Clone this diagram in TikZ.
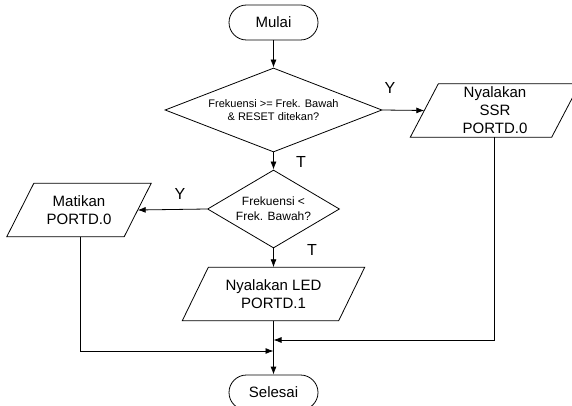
\documentclass[tikz,border=0pt]{standalone}
\usepackage{fontspec}
\setmainfont{Liberation Sans}
\usetikzlibrary{arrows.meta,shapes.geometric}
\tikzset{
  ln/.style={line width=0.8pt},
  arr/.style={ln,-{Latex[length=8pt,width=6pt]}},
  term/.style={draw,ln,rounded corners=17.5pt,minimum width=89pt,minimum height=35pt,inner sep=0pt,font=\fontsize{15}{18}\selectfont},
  para/.style={draw=none,minimum height=53pt,inner sep=0pt,align=center,font=\fontsize{15}{18}\selectfont},
  dec/.style={draw,ln,shape=diamond,inner sep=0pt,align=center},
  lbl/.style={font=\fontsize{16}{18}\selectfont,inner sep=0pt}
}
\begin{document}
\begin{tikzpicture}[x=1pt,y=-1pt]
\useasboundingbox (0,0) rectangle (572,406);
\node[term] (mulai) at (273.5,22.5) {Mulai};
\node[dec,minimum width=217pt,minimum height=84pt,aspect=2.58,font=\fontsize{11}{13.5}\selectfont] (d1) at (273.5,110) {Frekuensi >= Frek. Bawah\\\& RESET ditekan?};
\node[para,minimum width=141pt] (ssr) at (495,110.5) {Nyalakan\\SSR\\PORTD.0};
\node[dec,minimum width=132pt,minimum height=78pt,aspect=1.7,font=\fontsize{12}{15}\selectfont] (d2) at (273.5,209) {Frekuensi <\\Frek. Bawah?};
\node[para,minimum width=117pt] (mat) at (79,210) {Matikan\\PORTD.0};
\node[para,minimum width=156pt] (led) at (273.5,294) {Nyalakan LED\\PORTD.1};
\node[term] (selesai) at (273.5,392.5) {Selesai};
\foreach \n/\s in {ssr/14pt,mat/13.5pt,led/13pt}{
  \draw[ln] ([xshift=\s]\n.north west) -- ([xshift=\s]\n.north east) -- ([xshift=-\s]\n.south east) -- ([xshift=-\s]\n.south west) -- cycle;
}
\coordinate (jr) at (273.5,340);
\coordinate (jl) at (273.5,351);
\draw[arr] (mulai) -- (d1);
\draw[arr] (d1.east) -- (ssr.west);
\draw[arr] (d1.south) -- (d2.north);
\draw[arr] (d2.west) -- (mat.east);
\draw[arr] (d2.south) -- (led.north);
\draw[arr] (led.south) -- (selesai.north);
\draw[arr] ([xshift=-1pt]ssr.south) |- (jr);
\draw[arr] ([xshift=1pt]mat.south) |- (jl);
\node[lbl] (y1) at (390,88) {Y};
\node[lbl] (t1) at (301,161.5) {T};
\node[lbl] (y2) at (180,194) {Y};
\node[lbl] (t2) at (312,249.5) {T};
\end{tikzpicture}
\end{document}
